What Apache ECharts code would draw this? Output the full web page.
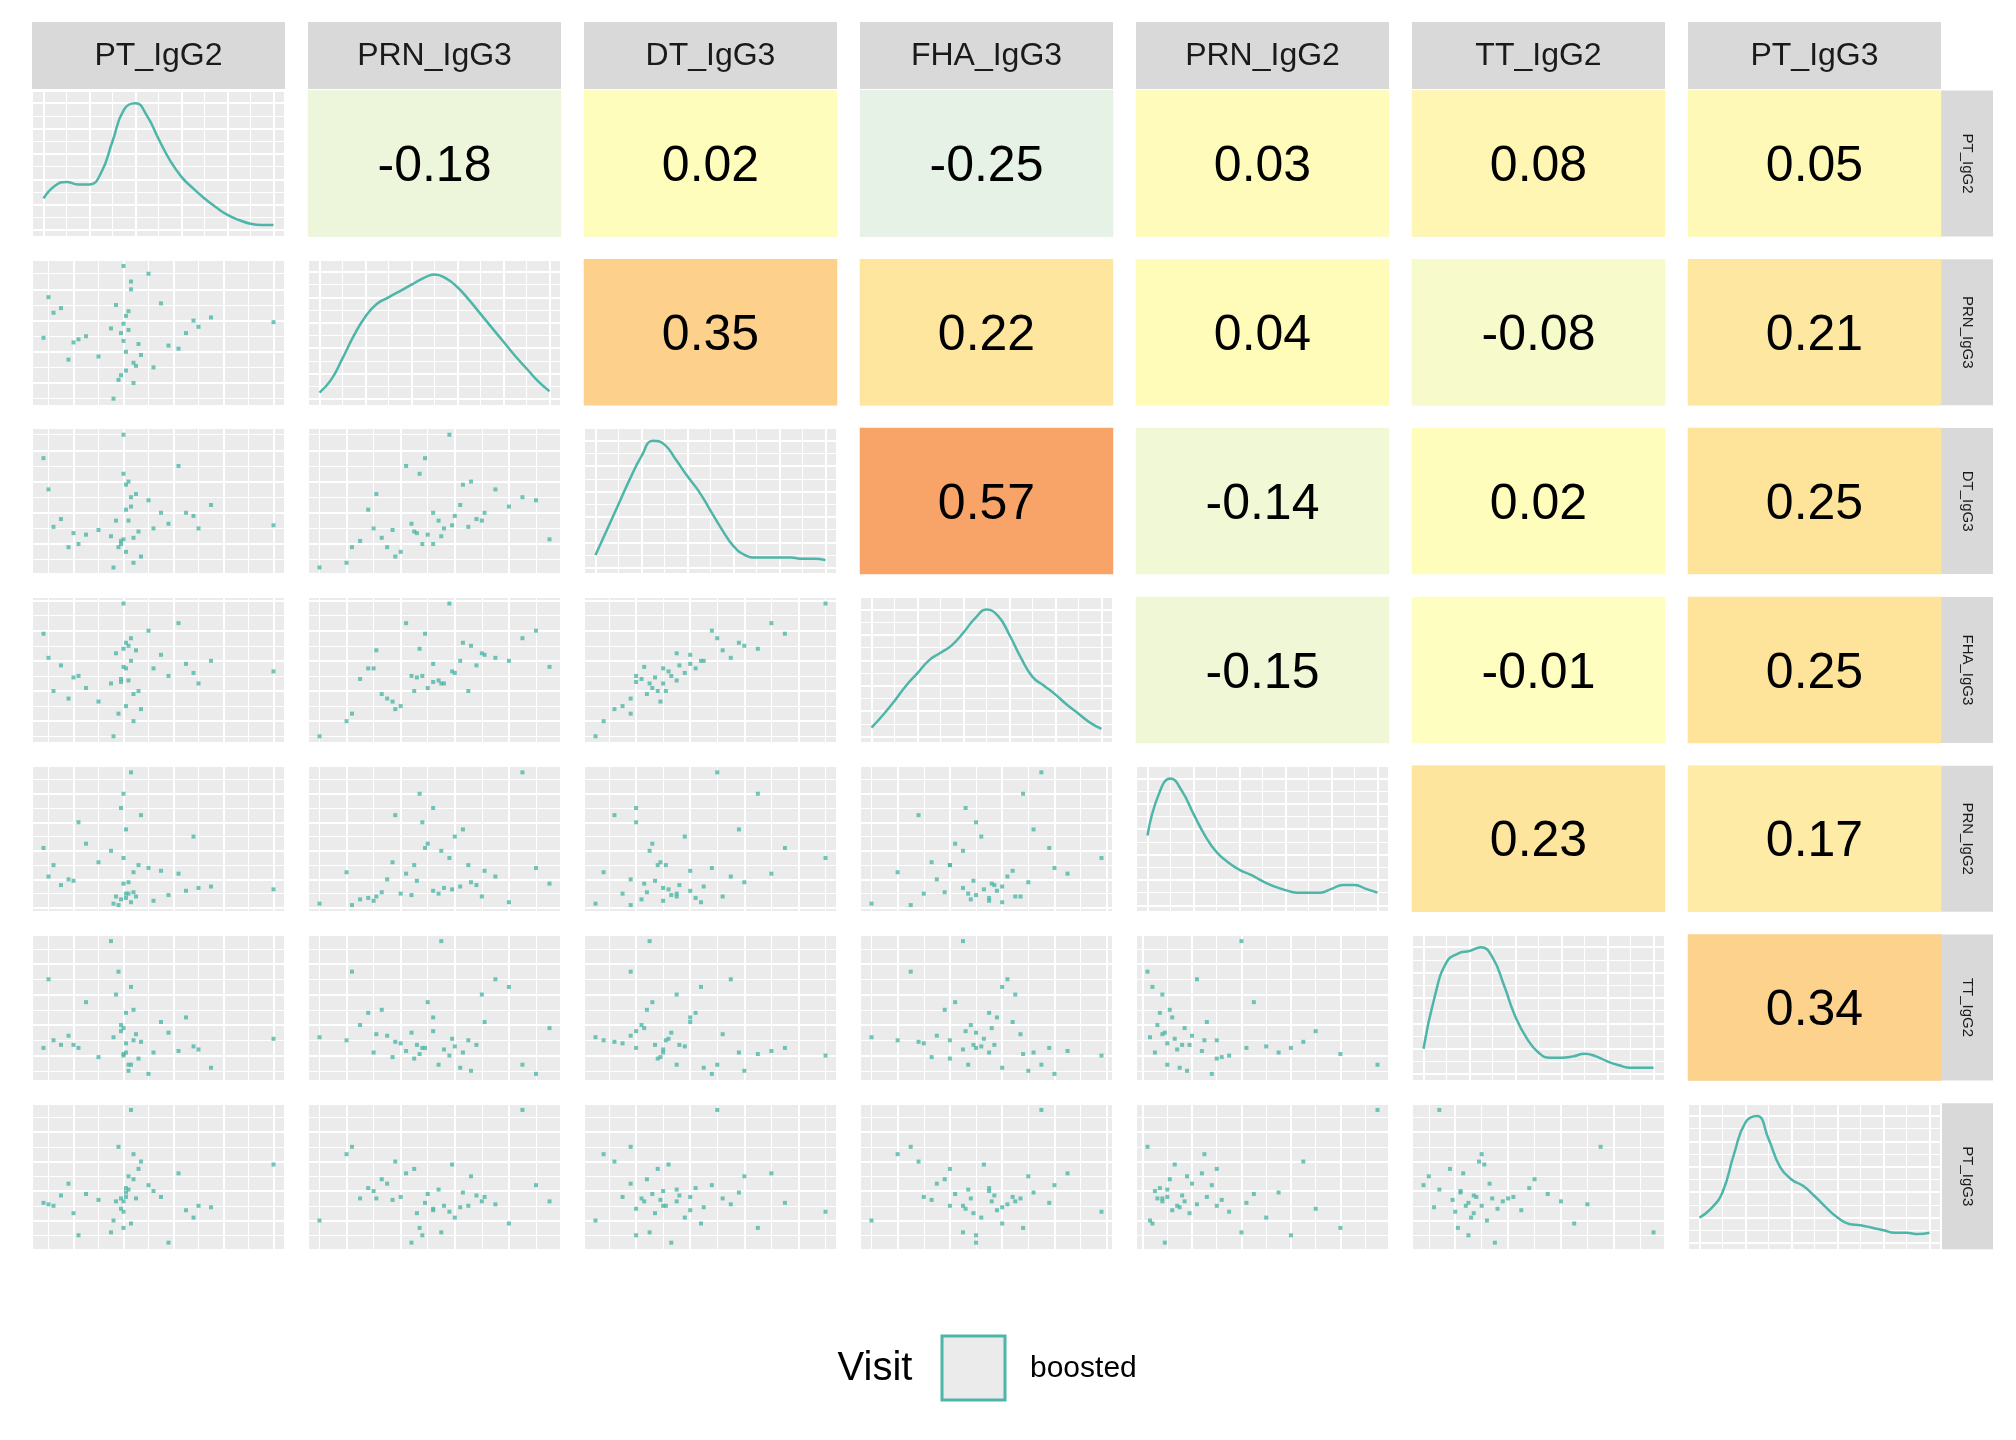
<!DOCTYPE html>
<html><head><meta charset="utf-8">
<script src="https://cdn.jsdelivr.net/npm/echarts@6/dist/echarts.min.js"></script>
<style>html,body{margin:0;background:#fff}#c{width:2016px;height:1440px}</style>
</head><body><div id="c"></div>
<script>
const varNames = ['PT_IgG2','PRN_IgG3','DT_IgG3','FHA_IgG3','PRN_IgG2','TT_IgG2','PT_IgG3'];
// per-subject values, one array per variable
const PT_IgG2  = [41,35,52,44,75,22,37,46,65,40,18,43,68,39,25,42,58,47,10,41,70,36,50,40,44,15,39,62,43,30,100,41,20,38,55,42,8,40,45,12];
const PRN_IgG3 = [40,55,30,20,62,48,70,45,52,58,35,85,60,25,50,66,44,38,75,28,56,10,90,47,33,68,52,42,80,37,59,63,46,22,71,54,49,95,31,65];
const DT_IgG3  = [15,25,30,8,45,20,35,28,40,90,18,50,38,22,26,60,33,12,55,42,30,5,48,65,24,36,20,70,44,29,32,58,27,18,40,35,75,23,52,31];
const FHA_IgG3 = [30,45,55,20,60,50,65,40,58,98,35,75,52,48,42,70,50,28,62,55,45,10,80,68,38,57,46,85,60,33,53,72,49,25,64,47,78,56,67,40];
const PRN_IgG2 = [10,40,5,25,15,60,8,30,12,35,20,95,50,6,45,18,9,65,22,7,14,3,28,80,11,16,70,24,4,32,13,55,19,2,26,10,42,17,8,30];
const TT_IgG2  = [28,95,22,30,12,25,60,18,45,20,33,14,26,40,55,10,35,29,70,48,24,32,8,21,50,27,36,23,65,19,31,22,27,75,42,14,25,38,34,30];
const PT_IgG3  = [36,12,40,65,29,10,33,55,27,26,45,95,22,35,38,50,5,60,31,42,30,20,44,15,48,37,28,52,18,34,58,39,25,70,36,41,32,33,35,30];
const values = [PT_IgG2,PRN_IgG3,DT_IgG3,FHA_IgG3,PRN_IgG2,TT_IgG2,PT_IgG3];

// density curves read from the diagonal, sampled evenly across the panel
const densX = [0,5,10,15,20,25,30,35,40,45,50,55,60,65,70,75,80,85,90,95,100];
const densities = [
  [0.25,0.35,0.38,0.36,0.36,0.45,0.7,0.95,1.0,0.9,0.72,0.55,0.42,0.33,0.25,0.18,0.12,0.08,0.05,0.04,0.04],
  [0.05,0.15,0.32,0.5,0.65,0.75,0.8,0.85,0.9,0.95,0.98,0.95,0.88,0.78,0.67,0.56,0.45,0.34,0.24,0.14,0.06],
  [0.1,0.3,0.5,0.7,0.88,1.0,0.97,0.85,0.72,0.6,0.45,0.3,0.17,0.1,0.08,0.08,0.08,0.08,0.07,0.07,0.06],
  [0.07,0.17,0.28,0.4,0.5,0.6,0.66,0.72,0.82,0.93,1.0,0.95,0.8,0.62,0.47,0.4,0.33,0.25,0.18,0.11,0.06],
  [0.55,0.88,1.0,0.9,0.72,0.55,0.42,0.34,0.28,0.24,0.19,0.15,0.12,0.1,0.1,0.1,0.13,0.16,0.16,0.13,0.1],
  [0.2,0.62,0.88,0.95,0.97,1.0,0.92,0.7,0.45,0.28,0.17,0.13,0.13,0.14,0.16,0.14,0.1,0.07,0.05,0.05,0.05],
  [0.2,0.27,0.4,0.7,0.95,1.0,0.82,0.6,0.5,0.45,0.37,0.28,0.2,0.15,0.14,0.12,0.1,0.08,0.08,0.07,0.08]
];
// correlation labels of upper triangle, row by row
const corrRows = [
  [-0.18,0.02,-0.25,0.03,0.08,0.05],
  [0.35,0.22,0.04,-0.08,0.21],
  [0.57,-0.14,0.02,0.25],
  [-0.15,-0.01,0.25],
  [0.23,0.17],
  [0.34]
];

const teal = '#4db6a8';
const colX = c => 32 + c * 276, rowY = r => 90.5 + r * 168.8;
const W = 253, H = 146;
const grid = [], xAxis = [], yAxis = [], series = [], graphic = [];
const gridLines = {
  axisLine:{show:false}, axisTick:{show:false}, axisLabel:{show:false},
  splitLine:{show:true,lineStyle:{color:'#fff',width:2}},
  minorTick:{show:false,splitNumber:2},
  minorSplitLine:{show:true,lineStyle:{color:'#fff',width:1}}
};
const pad = a => { const mn=Math.min(...a), mx=Math.max(...a), p=(mx-mn)*0.05; return [mn-p, mx+p]; };

for (let r = 0; r < 7; r++) for (let c = 0; c < 7; c++) {
  const i = grid.length;
  grid.push({left:colX(c), top:rowY(r), width:W, height:H, show:true,
    backgroundColor:'#ebebeb', borderWidth:0});
  if (c > r) {
    xAxis.push({gridIndex:i, type:'category', data:['a'], show:false});
    yAxis.push({gridIndex:i, type:'category', data:['a'], show:false});
    series.push({type:'heatmap', xAxisIndex:i, yAxisIndex:i,
      data:[[0,0,corrRows[r][c-r-1]]],
      label:{show:true, fontSize:50, color:'#000', fontFamily:'Liberation Sans', offset:[0,4],
        formatter:p=>p.value[2].toFixed(2)}});
  } else if (c === r) {
    xAxis.push(Object.assign({gridIndex:i, type:'value', min:-5, max:105, splitNumber:5}, gridLines));
    yAxis.push(Object.assign({gridIndex:i, type:'value', min:-0.05, max:1.1, splitNumber:5}, gridLines));
    series.push({type:'line', xAxisIndex:i, yAxisIndex:i, smooth:true, showSymbol:false,
      lineStyle:{color:teal, width:2.5}, data:densX.map((x,k)=>[x, densities[r][k]])});
  } else {
    const [x0,x1] = pad(values[c]), [y0,y1] = pad(values[r]);
    xAxis.push(Object.assign({gridIndex:i, type:'value', min:x0, max:x1, splitNumber:5}, gridLines));
    yAxis.push(Object.assign({gridIndex:i, type:'value', min:y0, max:y1, splitNumber:5}, gridLines));
    series.push({type:'scatter', xAxisIndex:i, yAxisIndex:i, symbol:'rect', symbolSize:4,
      itemStyle:{color:teal}, data:values[c].map((v,k)=>[v, values[r][k]])});
  }
}

const stripX = colX(6) + W;
varNames.forEach((n, k) => {
  graphic.push({type:'rect', shape:{x:colX(k), y:22, width:W, height:67}, style:{fill:'#d9d9d9'}});
  graphic.push({type:'text', x:colX(k)+W/2, y:22+34, style:{text:n, font:'32px "Liberation Sans"',
    fill:'#1a1a1a', align:'center', verticalAlign:'middle'}});
  graphic.push({type:'rect', shape:{x:stripX, y:rowY(k), width:52, height:H}, style:{fill:'#d9d9d9'}});
  graphic.push({type:'text', x:stripX+26, y:rowY(k)+H/2, rotation:-Math.PI/2,
    style:{text:n, font:'15px "Liberation Sans"', fill:'#1a1a1a', align:'center', verticalAlign:'middle'}});
});
// legend
graphic.push({type:'text', x:875, y:1369, style:{text:'Visit', font:'40px "Liberation Sans"', fill:'#000', align:'center', verticalAlign:'middle'}});
graphic.push({type:'rect', shape:{x:942, y:1336, width:63, height:64}, style:{fill:'#ebebeb', stroke:teal, lineWidth:3}});
graphic.push({type:'text', x:1030, y:1369, style:{text:'boosted', font:'30px "Liberation Sans"', fill:'#000', verticalAlign:'middle'}});

const chart = echarts.init(document.getElementById('c'));
chart.setOption({
  animation:false, grid, xAxis, yAxis, series, graphic,
  visualMap:{show:false, type:'continuous', min:-1, max:1, seriesIndex:series.map((s,k)=>s.type==='heatmap'?k:-1).filter(k=>k>=0),
    inRange:{color:['#2c7bb6','#7fb2cf','#c0dce0','#e6f2e6','#ffffbf','#fee39a','#fbb574','#f07a4a','#d7191c']}}
});
</script></body></html>
